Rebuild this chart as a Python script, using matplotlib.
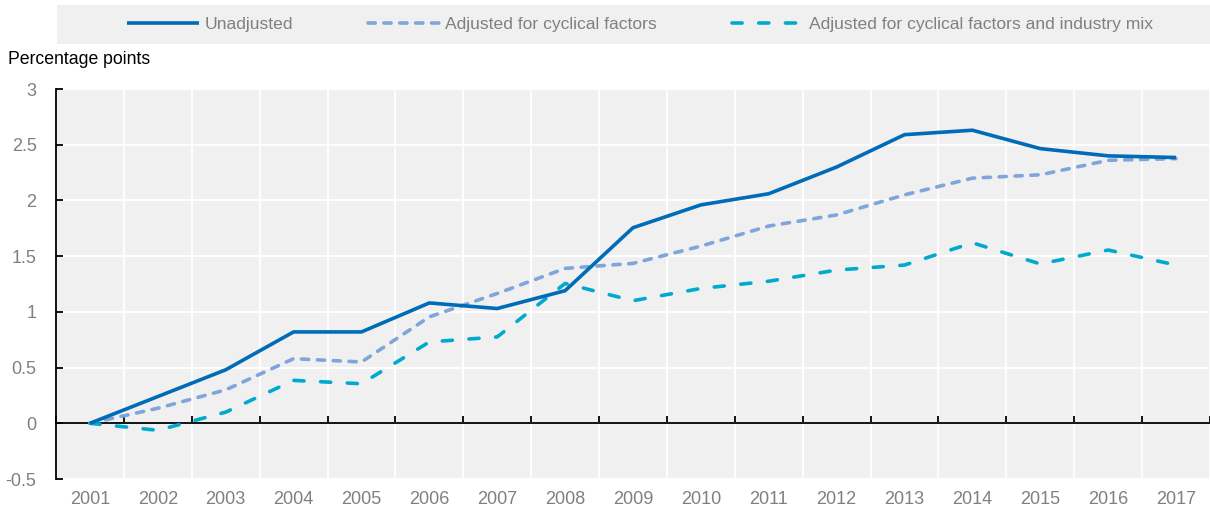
import matplotlib
matplotlib.use("Agg")
import matplotlib.pyplot as plt
from matplotlib.patches import Rectangle
import numpy as np

years = [str(y) for y in range(2001, 2018)]
unadjusted = [0.0, 0.24, 0.48, 0.82, 0.82, 1.08, 1.03, 1.19, 1.755, 1.96, 2.06, 2.30, 2.59, 2.63, 2.465, 2.40, 2.385]
adj_cyclical = [0.0, 0.135, 0.30, 0.58, 0.55, 0.955, 1.165, 1.39, 1.435, 1.59, 1.77, 1.87, 2.05, 2.20, 2.23, 2.36, 2.375]
adj_cyc_industry = [0.0, -0.063, 0.10, 0.385, 0.355, 0.73, 0.775, 1.255, 1.10, 1.21, 1.275, 1.375, 1.42, 1.62, 1.43, 1.555, 1.42]
series_labels = ["Unadjusted", "Adjusted for cyclical factors", "Adjusted for cyclical factors and industry mix"]
yticks = [-0.5, 0, 0.5, 1, 1.5, 2, 2.5, 3]
ytick_labels = ["-0.5", "0", "0.5", "1", "1.5", "2", "2.5", "3"]

FONT = ["Liberation Sans Narrow", "Liberation Sans", "DejaVu Sans"]
plt.rcParams["font.family"] = FONT
GRAY = "#808080"

W, H = 1210, 509
fig = plt.figure(figsize=(W / 100, H / 100), dpi=100)
ax = fig.add_axes([56 / W, 1 - 479 / H, (1210 - 56) / W, (479 - 89) / H])
ax.set_facecolor("#f0f0f0")

x = np.arange(len(years))
l1, = ax.plot(x, unadjusted, color="#006bb6", lw=2.6, solid_capstyle="butt", zorder=4)
l2, = ax.plot(x, adj_cyclical, color="#7ea6da", lw=2.6, dashes=(2.0, 2.4),
              dash_capstyle="round", zorder=3)
l3, = ax.plot(x, adj_cyc_industry, color="#00aacf", lw=2.6, dashes=(2.8, 4.6),
              dash_capstyle="round", zorder=3)

ax.set_xlim(-0.5, len(years) - 0.5)
ax.set_ylim(-0.5, 3)
ax.set_yticks(yticks)
ax.set_yticklabels(ytick_labels)
ax.set_xticks(x)
ax.set_xticklabels(years)
ax.set_xticks(np.arange(len(years) + 1) - 0.5, minor=True)

for s in ["top", "right"]:
    ax.spines[s].set_visible(False)
ax.spines["bottom"].set_position(("data", 0))
ax.spines["bottom"].set_linewidth(1.3)
ax.spines["left"].set_linewidth(1.3)
ax.spines["bottom"].set_zorder(2)

ax.tick_params(axis="x", which="major", length=0, pad=49, labelsize=13, labelcolor=GRAY)
ax.tick_params(axis="x", which="minor", direction="in", length=5, width=1.3, color="black")
ax.tick_params(axis="y", which="major", direction="in", length=5, width=1.3, pad=14,
               labelsize=13, labelcolor=GRAY)

ax.grid(True, axis="y", which="major", color="white", lw=1.3)
ax.grid(True, axis="x", which="minor", color="white", lw=1.3)
ax.grid(False, axis="x", which="major")
ax.set_axisbelow(True)

fig.text(8 / W, 1 - 60 / H, "Percentage points", fontsize=12.7, color="black", va="center", ha="left")

# legend band
fig.patches.append(Rectangle((57 / W, 1 - 44 / H), (1210 - 57) / W, 39 / H,
                             transform=fig.transFigure, facecolor="#f0f0f0", edgecolor="none", zorder=0))
leg = fig.legend([l1, l2, l3], series_labels, loc="center", bbox_to_anchor=(640 / W, 1 - 24.5 / H),
                 ncol=3, frameon=False, fontsize=12.6, handlelength=4.1, handletextpad=0.3,
                 columnspacing=4.3, labelcolor=GRAY)

fig.savefig("out.png", dpi=100)
